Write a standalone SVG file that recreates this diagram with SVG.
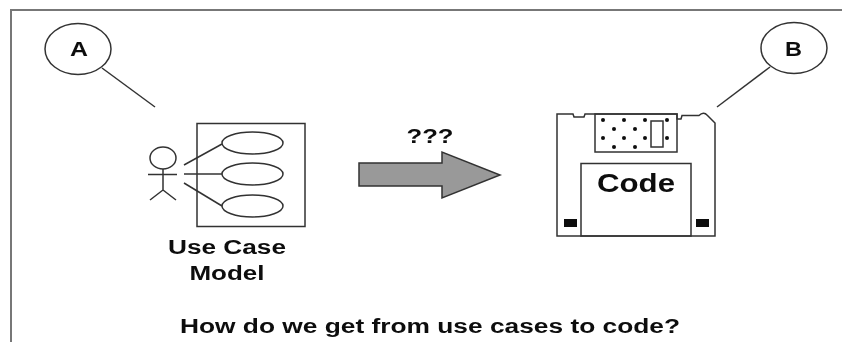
<svg xmlns="http://www.w3.org/2000/svg" width="842" height="342" viewBox="0 0 842 342">
<defs><filter id="soft" x="0" y="0" width="842" height="342" filterUnits="userSpaceOnUse"><feGaussianBlur stdDeviation="0.5"/></filter></defs>
<style>
.s{fill:none;stroke:#333;stroke-width:1.5}
.w{fill:#fff;stroke:#333;stroke-width:1.5}
.t{font-family:"Liberation Sans",Arial,sans-serif;font-weight:bold;fill:#111}
.d{fill:#111}
</style>
<rect width="842" height="342" fill="#fff"/>
<g filter="url(#soft)">
<g id="frame"><path d="M11 342V10H842" fill="none" stroke="#777" stroke-width="2"/></g>
<g id="connectors">
<line class="s" x1="102" y1="68" x2="155" y2="107"/>
<line class="s" x1="770" y1="67" x2="717" y2="107"/>
<line class="s" x1="184" y1="165" x2="222" y2="144"/>
<line class="s" x1="184" y1="174" x2="222" y2="174"/>
<line class="s" x1="184" y1="183" x2="222" y2="206"/>
</g>
<g id="node-a"><ellipse class="w" cx="78" cy="49" rx="33" ry="25.5"/><text class="t" x="79" y="56" font-size="20" text-anchor="middle" textLength="18" lengthAdjust="spacingAndGlyphs">A</text></g>
<g id="node-b"><ellipse class="w" cx="794" cy="48" rx="33" ry="25.5"/><text class="t" x="793.500" y="56" font-size="20" text-anchor="middle" textLength="17" lengthAdjust="spacingAndGlyphs">B</text></g>
<g id="use-case-model">
<rect class="s" x="197" y="123.500" width="108" height="103"/>
<ellipse class="w" cx="252.500" cy="143" rx="30.500" ry="11"/>
<ellipse class="w" cx="252.500" cy="174" rx="30.500" ry="11"/>
<ellipse class="w" cx="252.500" cy="206" rx="30.500" ry="11"/>
<ellipse class="w" cx="163" cy="158" rx="13" ry="11"/>
<path class="s" d="M148 174.500H177M163 169V190L150 200M163 190L176 200"/>
<text class="t" x="227" y="254" font-size="20" text-anchor="middle" textLength="118" lengthAdjust="spacingAndGlyphs">Use Case</text>
<text class="t" x="227" y="280" font-size="20" text-anchor="middle" textLength="75" lengthAdjust="spacingAndGlyphs">Model</text>
</g>
<g id="transition">
<polygon points="359,163 442,163 442,152 500,175 442,198 442,186 359,186" fill="#999" stroke="#333" stroke-width="1.500"/>
<text class="t" x="430" y="143" font-size="20" text-anchor="middle" textLength="47" lengthAdjust="spacingAndGlyphs">???</text>
</g>
<g id="floppy">
<path class="s" d="M557 114H573L574 117H584L585 114H677V119H681L682 115.500H699C702 112.500 705 112.500 707 115L715 123V236H557Z" fill="#fff"/>
<rect class="s" x="595" y="114" width="82" height="38"/>
<rect class="s" x="651" y="121" width="12" height="26"/>
<g class="d">
<circle cx="603" cy="120" r="2"/><circle cx="624" cy="120" r="2"/><circle cx="645" cy="120" r="2"/><circle cx="667" cy="120" r="2"/>
<circle cx="614" cy="129" r="2"/><circle cx="635" cy="129" r="2"/>
<circle cx="603" cy="138" r="2"/><circle cx="624" cy="138" r="2"/><circle cx="645" cy="138" r="2"/><circle cx="667" cy="138" r="2"/>
<circle cx="614" cy="147" r="2"/><circle cx="635" cy="147" r="2"/>
</g>
<rect class="s" x="581" y="163.500" width="110" height="72.500"/>
<rect class="d" x="564" y="219" width="13" height="8"/>
<rect class="d" x="696" y="219" width="13" height="8"/>
<text class="t" x="636" y="192" font-size="25" text-anchor="middle" textLength="78" lengthAdjust="spacingAndGlyphs">Code</text>
</g>
<g id="caption"><text class="t" x="430" y="332.500" font-size="20" text-anchor="middle" textLength="500" lengthAdjust="spacingAndGlyphs">How do we get from use cases to code?</text></g>
</g>
</svg>
